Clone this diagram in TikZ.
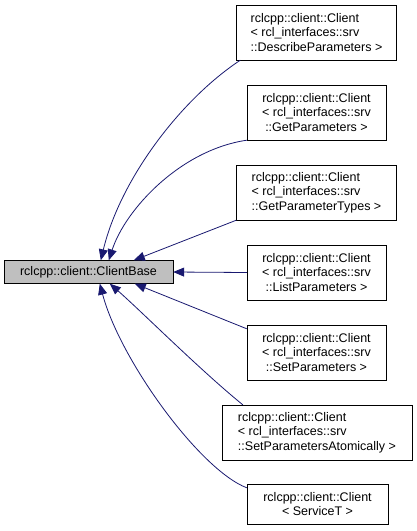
\documentclass[tikz,border=0pt]{standalone}
\usepackage{fontspec}
\setmainfont{Liberation Sans}
\usetikzlibrary{arrows.meta}
\definecolor{edgeblue}{HTML}{191970}

\begin{document}
\begin{tikzpicture}[x=1pt, y=-1pt, >={Triangle[length=11pt,width=9pt]},
    font=\fontsize{12.5}{14.5}\selectfont,
    cls/.style={draw=black, fill=white, inner sep=2pt, minimum height=55pt},
    basecls/.style={draw=black, fill=black!25, inner sep=2pt, minimum height=23pt, minimum width=169pt},
    inherit/.style={->, edgeblue, line width=0.8pt}]
  \useasboundingbox (0,0) rectangle (417,531);
  % ---------------- base class ----------------
  \node[basecls] (base) at (88.5,272) {rclcpp::client::ClientBase};
  % ---------------- derived classes ----------------
  \node[cls, minimum width=160pt, align=left] (describe) at (316.5,32.5)
    {rclcpp::client::Client\\< rcl\_interfaces::srv\\::DescribeParameters >};
  \node[cls, minimum width=139pt, align=center] (get) at (316.5,112.5)
    {rclcpp::client::Client\\< rcl\_interfaces::srv\\::GetParameters >};
  \node[cls, minimum width=160pt, align=left] (types) at (316.5,192.5)
    {rclcpp::client::Client\\< rcl\_interfaces::srv\\::GetParameterTypes >};
  \node[cls, minimum width=139pt, align=center] (list) at (316.5,272.5)
    {rclcpp::client::Client\\< rcl\_interfaces::srv\\::ListParameters >};
  \node[cls, minimum width=139pt, align=center] (set) at (316.5,352.5)
    {rclcpp::client::Client\\< rcl\_interfaces::srv\\::SetParameters >};
  \node[cls, minimum width=190pt, align=left] (atomic) at (317,432.5)
    {rclcpp::client::Client\\< rcl\_interfaces::srv\\::SetParametersAtomically >};
  \node[cls, minimum width=141pt, minimum height=40pt, align=center] (servicet) at (317.5,504)
    {rclcpp::client::Client\\< ServiceT >};
  % ---------------- inheritance edges ----------------
  \draw[inherit] ([xshift=4pt]describe.south west) .. controls (180,100) and (120,180) .. ([xshift=97pt]base.north west);
  \draw[inherit] (get.south west) .. controls (180,150) and (125,210) .. ([xshift=105pt]base.north west);
  \draw[inherit] (types.south west) -- ([xshift=130pt]base.north west);
  \draw[inherit] (list.west) -- (base.east);
  \draw[inherit] ([yshift=-4pt]set.north west) -- ([xshift=131pt]base.south west);
  \draw[inherit] ([xshift=21pt]atomic.north west) .. controls (200,370) and (140,310) .. ([xshift=106pt]base.south west);
  \draw[inherit] ([yshift=-4pt]servicet.north west) .. controls (200,470) and (120,360) .. ([xshift=96pt]base.south west);
\end{tikzpicture}
\end{document}
